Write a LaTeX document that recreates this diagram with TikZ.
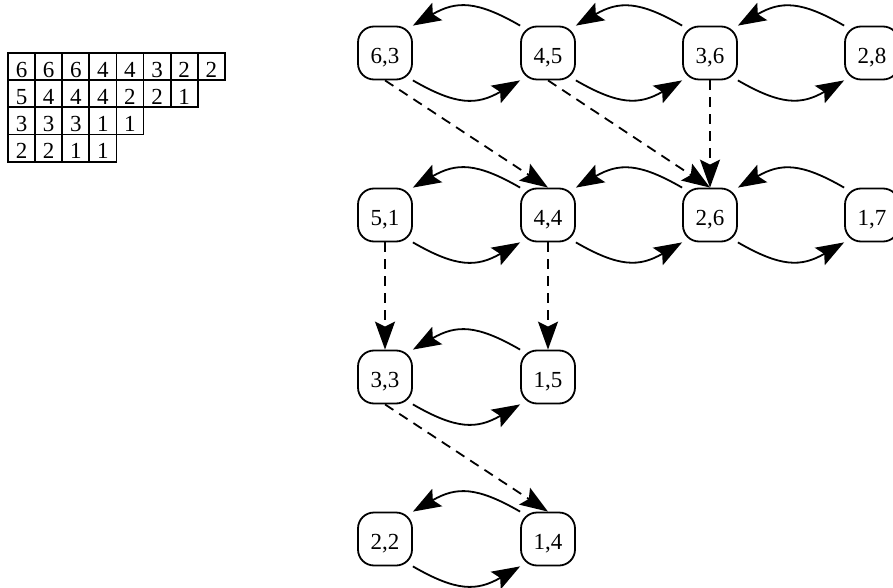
\documentclass[tikz,border=0pt]{standalone}
\usepackage{fontspec}
\setmainfont{Liberation Serif}
\usetikzlibrary{arrows.meta}
\begin{document}
\begin{tikzpicture}[x=0.5pt, y=-0.5pt,
        state/.style={draw, rounded corners=8pt, line width=0.9pt, minimum width=27pt, minimum height=26.5pt, inner sep=0pt, text height=10.5pt, text depth=0pt, font=\fontsize{11.5}{13}\selectfont},
        cell/.style={draw, line width=0.9pt, minimum width=13.55pt, minimum height=13.6pt, inner sep=0pt, text height=10.5pt, text depth=0pt, font=\fontsize{11.5}{13}\selectfont},
        fwd/.style={-{Stealth[length=14pt, width=10pt, inset=2.5pt]}, line width=0.9pt},
        jump/.style={fwd, dash pattern=on 5pt off 3.5pt}
    ]
        \useasboundingbox (0,0) rectangle (893,588);

        % Table
        \node[cell] (t11) at (21.55,66.6) {6}; \node[cell] (t12) at (48.65,66.6) {6};
        \node[cell] (t13) at (75.75,66.6) {6}; \node[cell] (t14) at (102.85,66.6) {4};
        \node[cell] (t15) at (129.95,66.6) {4}; \node[cell] (t16) at (157.05,66.6) {3};
        \node[cell] (t17) at (184.15,66.6) {2}; \node[cell] (t18) at (211.25,66.6) {2};

        \node[cell] (t21) at (21.55,93.8) {5}; \node[cell] (t22) at (48.65,93.8) {4};
        \node[cell] (t23) at (75.75,93.8) {4}; \node[cell] (t24) at (102.85,93.8) {4};
        \node[cell] (t25) at (129.95,93.8) {2}; \node[cell] (t26) at (157.05,93.8) {2};
        \node[cell] (t27) at (184.15,93.8) {1};

        \node[cell] (t31) at (21.55,121) {3}; \node[cell] (t32) at (48.65,121) {3};
        \node[cell] (t33) at (75.75,121) {3}; \node[cell] (t34) at (102.85,121) {1};
        \node[cell] (t35) at (129.95,121) {1};

        \node[cell] (t41) at (21.55,148.2) {2}; \node[cell] (t42) at (48.65,148.2) {2};
        \node[cell] (t43) at (75.75,148.2) {1}; \node[cell] (t44) at (102.85,148.2) {1};

        % States
        \node[state] (s63) at (385,53) {6,3};
        \node[state] (s45) at (548,53) {4,5};
        \node[state] (s36) at (710,53) {3,6};
        \node[state] (s28) at (872,53) {2,8};

        \node[state] (s51) at (385,215) {5,1};
        \node[state] (s44) at (548,215) {4,4};
        \node[state] (s26) at (710,215) {2,6};
        \node[state] (s17) at (872,215) {1,7};

        \node[state] (s33) at (385,377) {3,3};
        \node[state] (s15) at (548,377) {1,5};

        \node[state] (s22) at (385,539) {2,2};
        \node[state] (s14) at (548,539) {1,4};

        % Row moves
        \draw[fwd] (s63.south east) to[out=-30, in=-150, looseness=1.2] (s45.south west);
        \draw[fwd] (s45.north west) to[out=150, in=30, looseness=1.2] (s63.north east);
        \draw[fwd] (s45.south east) to[out=-30, in=-150, looseness=1.2] (s36.south west);
        \draw[fwd] (s36.north west) to[out=150, in=30, looseness=1.2] (s45.north east);
        \draw[fwd] (s36.south east) to[out=-30, in=-150, looseness=1.2] (s28.south west);
        \draw[fwd] (s28.north west) to[out=150, in=30, looseness=1.2] (s36.north east);

        \draw[fwd] (s51.south east) to[out=-30, in=-150, looseness=1.2] (s44.south west);
        \draw[fwd] (s44.north west) to[out=150, in=30, looseness=1.2] (s51.north east);
        \draw[fwd] (s44.south east) to[out=-30, in=-150, looseness=1.2] (s26.south west);
        \draw[fwd] (s26.north west) to[out=150, in=30, looseness=1.2] (s44.north east);
        \draw[fwd] (s26.south east) to[out=-30, in=-150, looseness=1.2] (s17.south west);
        \draw[fwd] (s17.north west) to[out=150, in=30, looseness=1.2] (s26.north east);

        \draw[fwd] (s33.south east) to[out=-30, in=-150, looseness=1.2] (s15.south west);
        \draw[fwd] (s15.north west) to[out=150, in=30, looseness=1.2] (s33.north east);

        \draw[fwd] (s22.south east) to[out=-30, in=-150, looseness=1.2] (s14.south west);
        \draw[fwd] (s14.north west) to[out=150, in=30, looseness=1.2] (s22.north east);

        % Drops
        \draw[jump] (s63.south) -- (s44.north);
        \draw[jump] (s45.south) -- (s26.north);
        \draw[jump] (s36.south) -- (s26.north);
        \draw[jump] (s51.south) -- (s33.north);
        \draw[jump] (s44.south) -- (s15.north);
        \draw[jump] (s33.south) -- (s14.north);
    \end{tikzpicture}
\end{document}
